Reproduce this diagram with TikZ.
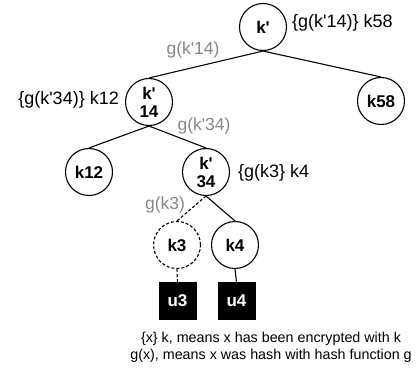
\documentclass[tikz,border=0pt]{standalone}
\usepackage{fontspec}
\newfontfamily\af{Liberation Sans}
\begin{document}
\begin{tikzpicture}[x=1pt,y=-1pt,
  key/.style={circle,draw,line width=1.1pt,minimum size=47pt,inner sep=0pt,
    font=\af\bfseries\fontsize{17}{21}\selectfont,align=center},
  dkey/.style={key,dash pattern=on 3pt off 2pt},
  user/.style={fill=black,draw=black,minimum width=37pt,minimum height=37pt,inner sep=0pt,
    text=white,font=\af\bfseries\fontsize{17}{21}\selectfont},
  lbl/.style={inner sep=0pt,font=\af\fontsize{18}{20}\selectfont},
  glbl/.style={inner sep=0pt,font=\af\fontsize{17.5}{20}\selectfont,text=hashgray},
  edge/.style={line width=1.1pt},
  dedge/.style={edge,dash pattern=on 3pt off 2pt}]
\definecolor{hashgray}{RGB}{135,135,135}
\useasboundingbox (0,0) rectangle (416,377);
\node[key] (r) at (263,27) {k'};
\node[key] (k58) at (381,101) {k58};
\node[key] (k14) at (149,102) {k'\\[-3pt]14};
\node[key] (k12) at (89,172) {k12};
\node[key] (k34) at (206,172) {k'\\[-3pt]34};
\node[dkey] (k3) at (177,245) {k3};
\node[key] (k4) at (235,245) {k4};
\node[user] (u3) at (177.5,301) {u3};
\node[user] (u4) at (236.5,301) {u4};
\draw[edge] (r.south) -- (k14.north);
\draw[edge] (r.south) -- (k58.north);
\draw[edge] (k14.south) -- (k12.north);
\draw[edge] (k14.south) -- (k34.north);
\draw[dedge] (k34.south) -- (k3.north);
\draw[edge] (k34.south) -- (k4.north);
\draw[dedge] (k3.south) -- (u3.north);
\draw[edge] (k4.south) -- (u4.north);
\node[lbl,anchor=west] (l1) at (292,23) {\{g(k'14)\} k58};
\node[glbl] (g1) at (193,50) {g(k'14)};
\node[lbl,anchor=east] (l2) at (119,100) {\{g(k'34)\} k12};
\node[glbl] (g2) at (204,126) {g(k'34)};
\node[lbl,anchor=west] (l3) at (238,173) {\{g(k3\} k4};
\node[glbl] (g3) at (165,205) {g(k3)};
\node[inner sep=0pt,align=center,font=\af\fontsize{14.3}{17}\selectfont] (cap) at (271,347)
  {\{x\} k, means x has been encrypted with k\\g(x), means x was hash with hash function g};
\end{tikzpicture}
\end{document}
